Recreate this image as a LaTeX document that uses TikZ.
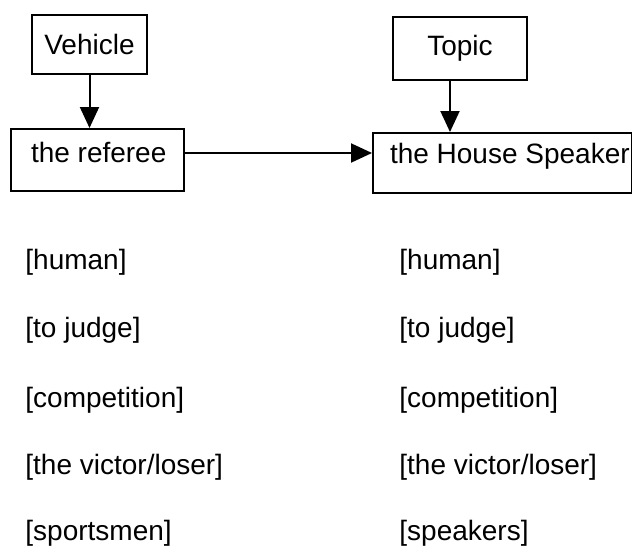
\documentclass[tikz,border=0pt]{standalone}
\usepackage{fontspec}
\setmainfont{Liberation Sans}
\usepackage{tikz}
\usetikzlibrary{arrows.meta}
\usetikzlibrary{positioning}

\tikzset{
	box/.style={draw, line width=1pt, inner sep=0pt, font=\fontsize{14}{16}\selectfont},
	lower/.style={box, anchor=north west},
	arr/.style={-{Triangle[length=10.5pt, width=9.5pt]}, line width=1pt},
	feat/.style={anchor=west, inner sep=0pt, font=\fontsize{14}{16}\selectfont}
}

\begin{document}
\begin{tikzpicture}[x=1pt, y=-1pt]
			\useasboundingbox (0,0) rectangle (316,276);
			% vehicle and topic
			\node[box, minimum width=57.5pt, minimum height=29.5pt] (vehicle) at (44.75,22.25) {Vehicle};
			\node[box, minimum width=67pt, minimum height=31.5pt] (topic) at (230,24.25) {Topic};
			\node[lower, text height=16.5pt, text depth=14.5pt] (referee) at (5,64) {\makebox[86.5pt][l]{\hspace{10pt}the referee}};
			\node[lower, text height=15pt, text depth=15pt] (speaker) at (186,66) {\makebox[129.3pt][l]{\hspace{8.5pt}the House Speaker}};
			\draw[arr] (vehicle.south) -- (vehicle.south |- referee.north);
			\draw[arr] ([xshift=-5pt]topic.south) -- ([xshift=-5pt]topic.south |- speaker.north);
			\draw[arr] ([yshift=3.5pt]referee.east) -- ([yshift=3.5pt]referee.east -| speaker.west);
			% features
			\foreach \yRow/\lTxt/\rTxt [count=\iRow] in {131/{[human]}/{[human]}, 165/{[to judge]}/{[to judge]}, 200/{[competition]}/{[competition]}, 233.5/{[the victor/loser]}/{[the victor/loser]}, 266.5/{[sportsmen]}/{[speakers]}}
			{
				\node[feat] (l\iRow) at (12.5,\yRow) {\lTxt};
				\node[feat] (r\iRow) at (199.5,\yRow) {\rTxt};
			}
\end{tikzpicture}
\end{document}
